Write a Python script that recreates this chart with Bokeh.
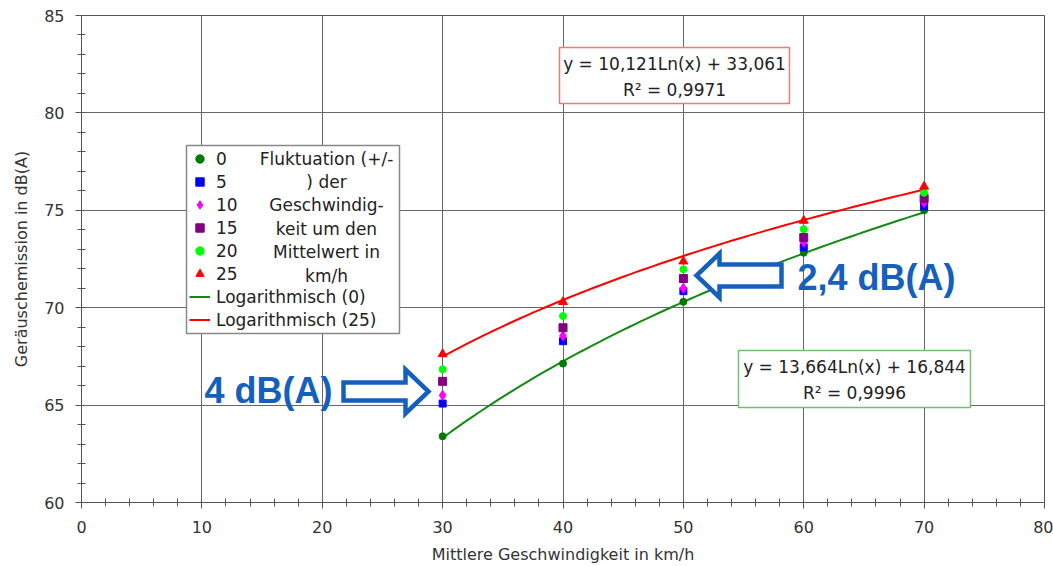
import numpy as np
from bokeh.plotting import figure
from bokeh.models import (Range1d, SingleIntervalTicker, Legend, LegendItem, Label,
                          BoxAnnotation, PolyAnnotation)
from bokeh.embed import file_html
from bokeh.resources import INLINE

# ---------------- data ----------------
speeds = [30, 40, 50, 60, 70]
fluct_labels = ["0", "5", "10", "15", "20", "25"]
noise_0 = [63.4, 67.13, 70.3, 72.82, 75.0]
noise_5 = [65.08, 68.28, 70.85, 73.1, 75.2]
noise_10 = [65.5, 68.55, 71.0, 73.36, 75.4]
noise_15 = [66.22, 68.97, 71.5, 73.6, 75.6]
noise_20 = [66.84, 69.57, 71.97, 74.03, 75.9]
noise_25 = [67.62, 70.3, 72.38, 74.47, 76.22]

# logarithmic trend lines as displayed on the chart: y = a*Ln(x) + b
fit0_a, fit0_b, fit0_r2 = 13.664, 16.844, "0,9996"
fit25_a, fit25_b, fit25_r2 = 10.121, 33.061, "0,9971"
fit_x_start, fit_x_end = 30, 70

x_ticks_interval = 10
y_ticks_interval = 5

# ---------------- figure ----------------
W, H = 1053, 566
L, R, T, B = 81, 9, 15, 64
p = figure(width=W, height=H, output_backend="svg", toolbar_location=None,
           x_range=Range1d(0, 80), y_range=Range1d(60, 85),
           min_border_left=L, min_border_right=R, min_border_top=T, min_border_bottom=B)
p.background_fill_color = "white"
p.border_fill_color = "white"
p.outline_line_color = "#555555"
p.outline_line_width = 1

FW = W - L - R
FH = H - T - B


def dx(px):
    return (px - L) * 80.0 / FW


def dy(py):
    return 85.0 - (py - T) * 25.0 / FH


# axes
p.xaxis.ticker = SingleIntervalTicker(interval=x_ticks_interval, num_minor_ticks=5)
p.yaxis.ticker = SingleIntervalTicker(interval=y_ticks_interval, num_minor_ticks=5)
p.xaxis.axis_label = "Mittlere Geschwindigkeit in km/h"
p.yaxis.axis_label = "Geräuschemission in dB(A)"
for ax in (p.xaxis, p.yaxis):
    ax.axis_line_color = "#555555"
    ax.major_tick_line_color = "#555555"
    ax.minor_tick_line_color = "#555555"
    ax.major_tick_in = 0
    ax.major_tick_out = 6
    ax.minor_tick_in = 4
    ax.minor_tick_out = 4
    ax.major_label_text_font = "DejaVu Sans"
    ax.major_label_text_font_size = "16px"
    ax.major_label_text_color = "#333333"
    ax.axis_label_text_font = "DejaVu Sans"
    ax.axis_label_text_font_size = "16px"
    ax.axis_label_text_font_style = "normal"
    ax.axis_label_text_color = "#333333"
p.xaxis.major_label_standoff = 12
p.xaxis.axis_label_standoff = 9
p.yaxis.major_label_standoff = 11
p.yaxis.axis_label_standoff = 10

p.grid.grid_line_color = "#666666"
p.grid.grid_line_width = 1

# ---------------- trend lines ----------------
fx = np.linspace(fit_x_start, fit_x_end, 81)
l0 = p.line(fx, fit0_a * np.log(fx) + fit0_b, line_color="#138A13", line_width=2)
l25 = p.line(fx, fit25_a * np.log(fx) + fit25_b, line_color="#FF0000", line_width=2)

# ---------------- markers ----------------
series = [noise_0, noise_5, noise_10, noise_15, noise_20, noise_25]
markers = ["circle", "square", "diamond", "square", "circle", "triangle"]
colors = ["#007A00", "#0000FF", "#FF00FF", "#800080", "#00FF00", "#FF0000"]
sizes = [7, 7, 10, 8, 7, 9]
rs = []
for vals, m, c, s in zip(series, markers, colors, sizes):
    rs.append(p.scatter(speeds, vals, marker=m, size=s, fill_color=c, line_color=c))

TXT = "17px"

# ---------------- legend ----------------
box = BoxAnnotation(left=dx(186), right=dx(399), top=dy(145), bottom=dy(333),
                    fill_color="white", fill_alpha=1.0, line_color="#888888",
                    line_alpha=1.0, line_width=1.5, level="annotation")
p.add_layout(box)

items = [LegendItem(label=lab, renderers=[r]) for lab, r in zip(fluct_labels, rs)]
items.append(LegendItem(label="Logarithmisch (0)", renderers=[l0]))
items.append(LegendItem(label="Logarithmisch (25)", renderers=[l25]))
legend = Legend(items=items, location=(186 - L - 1, (T + FH) - 334), margin=0,
                padding=4, spacing=2, glyph_width=21, glyph_height=21,
                label_height=21, label_standoff=6,
                border_line_alpha=0, background_fill_alpha=0,
                label_text_font="DejaVu Sans", label_text_font_size=TXT,
                label_text_color="#222222")
p.add_layout(legend)

fluct_lines = ["Fluktuation (+/-", ") der", "Geschwindig-", "keit um den",
               "Mittelwert in", "km/h"]
for i, t in enumerate(fluct_lines):
    p.add_layout(Label(x=dx(326), y=dy(158 + i * 23.4), text=t, text_align="center",
                       text_baseline="middle", text_font="DejaVu Sans",
                       text_font_size=TXT, text_color="#222222"))

# ---------------- equation boxes ----------------
p.add_layout(BoxAnnotation(left=dx(559), right=dx(789), top=dy(47), bottom=dy(103),
                           fill_color="white", fill_alpha=1.0, line_color="#F07878",
                           line_alpha=1.0, line_width=1.5, level="annotation"))
p.add_layout(Label(x=dx(674), y=dy(63),
                   text=f"y = {str(fit25_a).replace('.', ',')}Ln(x) + {str(fit25_b).replace('.', ',')}",
                   text_align="center", text_baseline="middle", text_font="DejaVu Sans",
                   text_font_size=TXT, text_color="#222222"))
p.add_layout(Label(x=dx(674), y=dy(89), text=f"R² = {fit25_r2}",
                   text_align="center", text_baseline="middle", text_font="DejaVu Sans",
                   text_font_size=TXT, text_color="#222222"))

p.add_layout(BoxAnnotation(left=dx(738), right=dx(970), top=dy(350), bottom=dy(407),
                           fill_color="white", fill_alpha=1.0, line_color="#74BE74",
                           line_alpha=1.0, line_width=1.5, level="annotation"))
p.add_layout(Label(x=dx(854), y=dy(366),
                   text=f"y = {str(fit0_a).replace('.', ',')}Ln(x) + {str(fit0_b).replace('.', ',')}",
                   text_align="center", text_baseline="middle", text_font="DejaVu Sans",
                   text_font_size=TXT, text_color="#222222"))
p.add_layout(Label(x=dx(854), y=dy(392), text=f"R² = {fit0_r2}",
                   text_align="center", text_baseline="middle", text_font="DejaVu Sans",
                   text_font_size=TXT, text_color="#222222"))

# ---------------- arrows & callouts ----------------
BLUE = "#1560BD"
a1 = [(343, 382), (405, 382), (405, 369), (428, 391), (405, 413), (405, 400), (343, 400)]
a2 = [(781, 264), (719, 264), (719, 253), (696, 275), (719, 297), (719, 286), (781, 286)]
for pts in (a1, a2):
    p.add_layout(PolyAnnotation(xs=[dx(a) for a, b in pts], ys=[dy(b) for a, b in pts],
                                fill_color="white", fill_alpha=1.0, line_color=BLUE,
                                line_alpha=1.0, line_width=4.5, line_join="miter"))

p.add_layout(Label(x=dx(204), y=dy(390), text="4 dB(A)", text_align="left",
                   text_baseline="middle", text_font="Liberation Sans",
                   text_font_style="bold", text_font_size="36px", text_color=BLUE))
p.add_layout(Label(x=dx(797), y=dy(277), text="2,4 dB(A)", text_align="left",
                   text_baseline="middle", text_font="Liberation Sans",
                   text_font_style="bold", text_font_size="36px", text_color=BLUE))

open("out.html", "w").write(file_html(p, INLINE))
